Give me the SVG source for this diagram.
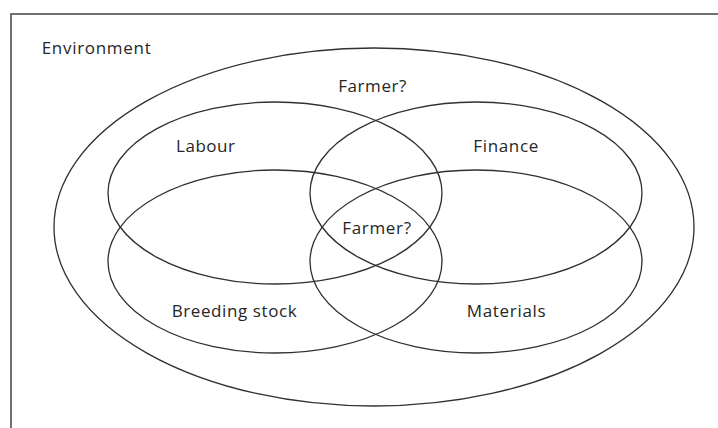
<svg xmlns="http://www.w3.org/2000/svg" width="718" height="428" viewBox="0 0 718 428">
<style>
.e{fill:none;stroke:#303030;stroke-width:1.3}
.t{font-family:"Open Sans","Liberation Sans",sans-serif;font-size:17px;fill:#262626}
.b{fill:none;stroke:#444;stroke-width:1.5}
</style>
<rect width="718" height="428" fill="#fff"/>
<g id="frame"><path class="b" d="M11 428V14H718"/></g>
<g id="environment">
<ellipse class="e" cx="374" cy="227" rx="320" ry="179"/>
<text class="t" x="41.7" y="54.3" textLength="109" lengthAdjust="spacing">Environment</text>
<text class="t" x="338.3" y="92.3" textLength="68" lengthAdjust="spacing">Farmer?</text>
</g>
<g id="labour">
<ellipse class="e" cx="275" cy="193" rx="167" ry="91"/>
<text class="t" x="176" y="151.7" textLength="59" lengthAdjust="spacing">Labour</text>
</g>
<g id="finance">
<ellipse class="e" cx="476" cy="193" rx="166" ry="91"/>
<text class="t" x="473.3" y="151.7" textLength="65" lengthAdjust="spacing">Finance</text>
</g>
<g id="breeding-stock">
<ellipse class="e" cx="275" cy="261.5" rx="167" ry="91.5"/>
<text class="t" x="171.7" y="316.7" textLength="125" lengthAdjust="spacing">Breeding stock</text>
</g>
<g id="materials">
<ellipse class="e" cx="476" cy="261.5" rx="166" ry="91.5"/>
<text class="t" x="466.7" y="316.7" textLength="79" lengthAdjust="spacing">Materials</text>
</g>
<g id="farmer-centre">
<text class="t" x="342.3" y="234.3" textLength="68.7" lengthAdjust="spacing">Farmer?</text>
</g>
</svg>
